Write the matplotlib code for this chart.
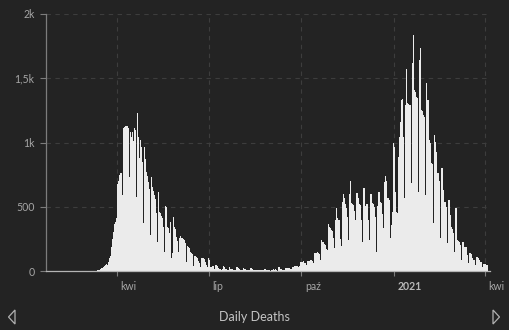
import numpy as np
import pandas as pd
import matplotlib
matplotlib.use('Agg')
import matplotlib.pyplot as plt
from matplotlib.patches import Polygon
from matplotlib.transforms import ScaledTranslation

# ------------------------------------------------------------
# Data: daily deaths, one row per week (Wed .. Tue)
# ------------------------------------------------------------
start_date = '2020-01-22'
daily_deaths = [
    0, 0, 0, 0, 0, 0, 0,
    0, 0, 0, 0, 0, 0, 0,
    0, 0, 0, 0, 0, 0, 0,
    0, 0, 0, 0, 0, 0, 0,
    0, 0, 0, 0, 0, 0, 0,
    0, 0, 0, 0, 0, 0, 0,
    0, 0, 1, 0, 1, 2, 1,
    3, 5, 8, 10, 14, 20, 22,
    33, 40, 46, 52, 50, 72, 105,
    115, 185, 250, 300, 365, 380, 410,
    680, 700, 745, 762, 765, 591, 1112,
    1123, 1125, 1130, 1128, 1110, 734, 1084,
    1045, 1084, 1010, 1112, 1100, 578, 1227,
    1045, 879, 1019, 967, 850, 373, 967,
    870, 772, 740, 695, 640, 280, 734,
    656, 620, 591, 560, 450, 225, 615,
    460, 450, 430, 410, 340, 150, 505,
    500, 340, 335, 295, 384, 100, 140,
    420, 345, 330, 267, 230, 150, 257,
    270, 257, 250, 245, 220, 73, 195,
    190, 179, 150, 140, 130, 38, 117,
    117, 110, 99, 80, 60, 35, 99,
    99, 99, 95, 73, 50, 35, 99,
    85, 35, 35, 38, 40, 15, 45,
    45, 40, 20, 15, 15, 10, 15,
    40, 30, 15, 15, 10, 8, 35,
    12, 12, 12, 10, 8, 6, 30,
    30, 25, 12, 10, 8, 6, 20,
    12, 12, 10, 10, 8, 6, 20,
    20, 18, 10, 10, 8, 6, 10,
    10, 8, 8, 10, 6, 5, 15,
    12, 10, 8, 8, 5, 3, 8,
    10, 12, 10, 12, 5, 3, 32,
    35, 12, 12, 10, 8, 8, 25,
    20, 20, 25, 25, 18, 12, 35,
    35, 40, 40, 42, 40, 30, 40,
    70, 73, 70, 75, 65, 50, 78,
    78, 80, 86, 86, 80, 60, 143,
    143, 140, 145, 143, 130, 86, 241,
    225, 223, 210, 202, 175, 163, 363,
    340, 332, 319, 310, 260, 181, 397,
    488, 415, 400, 397, 250, 197, 539,
    597, 566, 520, 488, 420, 241, 598,
    700, 527, 520, 513, 470, 397, 605,
    605, 566, 520, 510, 400, 223, 648,
    648, 508, 518, 518, 400, 241, 597,
    597, 530, 518, 500, 420, 150, 506,
    612, 612, 539, 530, 440, 332, 690,
    741, 700, 570, 566, 550, 254, 358,
    461, 993, 967, 617, 461, 455, 889,
    1045, 1162, 1330, 1340, 1045, 568, 1291,
    1569, 1309, 1300, 1295, 1290, 685, 1616,
    1836, 1408, 1395, 1356, 1350, 614, 1642,
    1733, 1252, 1245, 1213, 1200, 591, 1460,
    1330, 1019, 1000, 838, 830, 371, 1058,
    1006, 928, 760, 760, 700, 254, 799,
    799, 630, 539, 539, 500, 215, 552,
    552, 436, 345, 330, 293, 150, 488,
    488, 241, 235, 228, 200, 86, 228,
    228, 189, 189, 189, 124, 60, 138,
    138, 130, 99, 86, 86, 47, 111,
    111, 100, 86, 68, 68, 34, 52,
    52, 52, 50, 45,
]

tick_dates = ['2020-04-01', '2020-07-01', '2020-10-01', '2021-01-01', '2021-04-01']
tick_labels = ['kwi', 'lip', 'paź', '2021', 'kwi']
y_ticks = [0, 500, 1000, 1500, 2000]
y_labels = ['0', '500', '1k', '1,5k', '2k']
title = 'Daily Deaths'

# ------------------------------------------------------------
# Style
# ------------------------------------------------------------
BG = '#232323'
BAR = '#ebebeb'
GRID = '#3d3d3d'
TXT = '#a5a5a5'
plt.rcParams['font.family'] = ['Lato', 'DejaVu Sans']

dates = pd.date_range(start_date, periods=len(daily_deaths), freq='D')

W, H = 509, 330
fig = plt.figure(figsize=(W / 100, H / 100), dpi=100, facecolor=BG)
ax = fig.add_axes([46.4 / W, 59 / H, 443.1 / W, 257 / H])
ax.set_facecolor(BG)

ax.bar(dates, daily_deaths, width=1.0, align='edge', color=BAR,
       linewidth=0, antialiased=False, zorder=2)

ax.set_xlim(dates[0], dates[0] + pd.Timedelta(days=439.5))
ax.set_ylim(0, 2000)

# grid
ax.set_axisbelow(True)
ax.grid(True, color=GRID, linestyle=(0, (4, 4)), linewidth=0.8)

# spines
for s in ['top', 'right']:
    ax.spines[s].set_visible(False)
ax.spines['left'].set_color('#7c7c7c')
ax.spines['bottom'].set_color('#b4b4b4')
ax.spines['left'].set_linewidth(0.9)
ax.spines['bottom'].set_linewidth(0.9)

# ticks
ax.set_yticks(y_ticks)
ax.set_yticklabels(y_labels)
ax.set_xticks(pd.to_datetime(tick_dates))
ax.set_xticklabels(tick_labels)
ax.tick_params(axis='y', length=4.3, width=0.8, color='#7c7c7c', pad=4.3,
               labelsize=7.6, labelcolor=TXT)
ax.tick_params(axis='x', length=3.3, width=0.8, color='#7c7c7c', pad=4.0,
               labelsize=7.6, labelcolor=TXT)

shift = ScaledTranslation(3.5 / 100, 0, fig.dpi_scale_trans)
for lbl in ax.get_xticklabels():
    lbl.set_ha('left')
    lbl.set_transform(lbl.get_transform() + shift)
    if lbl.get_text() == '2021':
        lbl.set_fontweight('bold')
        lbl.set_color('#b8b8b8')

# ------------------------------------------------------------
# Footer: title with navigation arrows
# ------------------------------------------------------------
fig.text(254 / W, 1 - 317 / H, title, ha='center', va='center',
         fontsize=9, color='#c4c4c4')

def px(x, y):
    return (x / W, 1 - y / H)

left_arrow = Polygon([px(8.5, 317), px(15, 310), px(15, 324)], closed=True,
                     fill=False, edgecolor='#b0b0b0', linewidth=0.9,
                     transform=fig.transFigure)
right_arrow = Polygon([px(499.5, 317), px(493, 310), px(493, 324)], closed=True,
                      fill=False, edgecolor='#b0b0b0', linewidth=0.9,
                      transform=fig.transFigure)
fig.patches.extend([left_arrow, right_arrow])

fig.savefig('out.png', dpi=100, facecolor=BG)
